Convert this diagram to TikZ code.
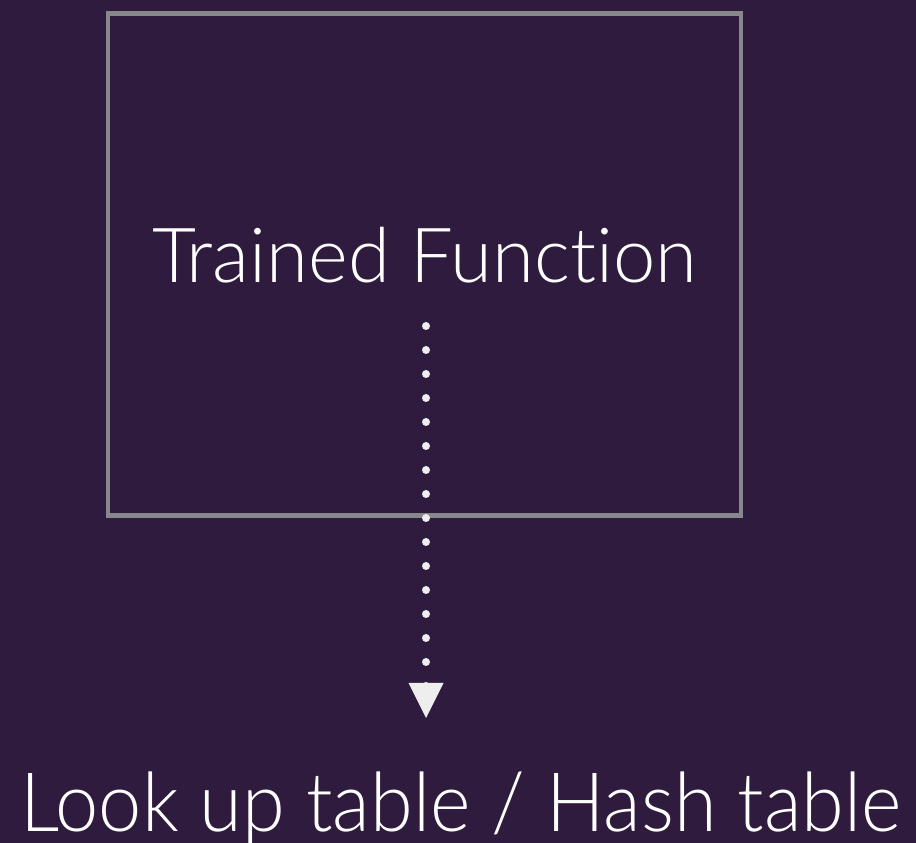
\documentclass[tikz,border=0pt]{standalone}
\usepackage{fontspec}
\setmainfont{Lato}[UprightFont=* Light, Ligatures=NoCommon]
\definecolor{bg}{RGB}{46,27,62}
\definecolor{boxgray}{RGB}{135,135,140}
\definecolor{arrowc}{RGB}{238,238,238}
\tikzset{
  txt/.style={text=white, inner sep=0pt, anchor=base},
  dotline/.style={draw=arrowc, line width=8pt, line cap=round, dash pattern=on 0pt off 24pt},
  framebox/.style={draw=boxgray, line width=4.5pt, inner sep=0pt, minimum width=633pt, minimum height=502pt}
}
\begin{document}
\begin{tikzpicture}[x=1pt,y=1pt]
\fill[bg] (0,0) rectangle (916,843);
\useasboundingbox (0,0) rectangle (916,843);
\node[framebox] (box) at (424.5,578.5) {};
\node[txt, font=\fontsize{76}{76}\selectfont] (func) at (424.5,560) {Trained Function};
\node[txt, font=\fontsize{82}{82}\selectfont] (lut) at (461,11) {\scalebox{0.945}[1]{Look up table / Hash table}};
\coordinate (dstart) at (426,517);
\coordinate (tip) at (426,125);
\draw[dotline] (dstart) -- ([yshift=32pt]tip);
\fill[arrowc] (tip) -- ++(-17.5,35) -- ++(35,0) -- cycle;
\end{tikzpicture}
\end{document}
